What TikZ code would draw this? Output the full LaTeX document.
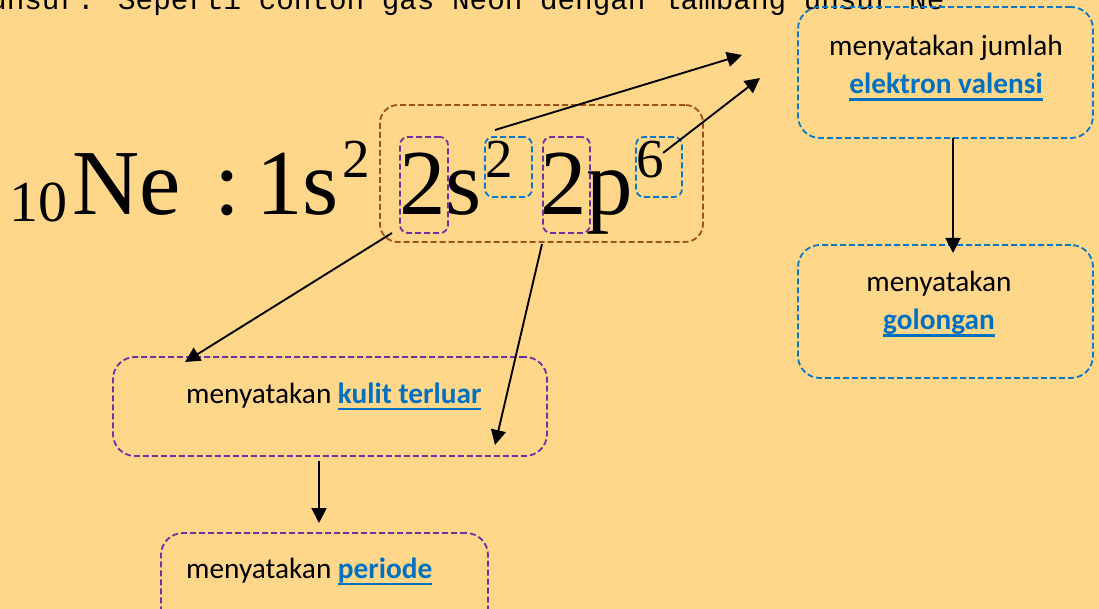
\documentclass[tikz,border=0pt]{standalone}
\usepackage{fontspec}
\usetikzlibrary{arrows.meta}
\setmainfont{Liberation Serif}
\newfontfamily\calib{Carlito}
\newfontfamily\monof{Liberation Mono}
\definecolor{bg}{HTML}{FFD78A}
\definecolor{linkblue}{HTML}{0070C0}
\definecolor{boxblue}{HTML}{0B76C6}
\definecolor{boxpurple}{HTML}{7030A0}
\definecolor{boxbrown}{HTML}{A0501A}
\newsavebox\lnkbox
\newcommand{\lnk}[1]{\sbox\lnkbox{\color{linkblue}\bfseries #1}\rlap{\color{linkblue}\rule[-7pt]{\wd\lnkbox}{2.2pt}}\usebox\lnkbox}
\tikzset{
  big/.style={anchor=base west,inner sep=0pt,font=\fontsize{93}{93}\selectfont},
  supr/.style={anchor=base west,inner sep=0pt,font=\fontsize{55}{55}\selectfont},
  dbox/.style={draw,dash pattern=on 6pt off 3pt,line width=1.8pt,inner sep=0pt,rounded corners=#1},
  dbox/.default=20pt,
  desc/.style={inner sep=0pt,font=\calib\fontsize{29.3}{38}\selectfont,align=center},
  arr/.style={-{Triangle[length=15pt,width=15pt]},line width=1.9pt,black}
}
\begin{document}
\begin{tikzpicture}[x=1pt,y=-1pt]
\useasboundingbox (0,0) rectangle (1099,609);
\fill[bg] (0,0) rectangle (1099,609);
\begin{scope}
\clip (0,0) rectangle (1099,609);
\node[anchor=base west,inner sep=0pt,font=\monof\fontsize{29.3}{30}\selectfont] (toptext) at (-11,10) {unsur. Seperti contoh gas Neon dengan lambang unsur Ne};

% formula
\node[anchor=base west,inner sep=0pt,font=\fontsize{58}{58}\selectfont] (sub10) at (9,222) {10};
\node[big] (ne) at (72,215) {Ne};
\node[big] (colon) at (214,215) {:};
\node[big] (ones) at (256,215) {1s};
\node[supr] (supa) at (342,178) {2};
\node[big] (twos) at (399,215) {2s};
\node[supr] (supb) at (485,178) {2};
\node[big] (twop) at (540,215) {2p};
\node[supr] (supc) at (636,178) {6};

% boxes around formula parts
\node[dbox=18pt,boxbrown,minimum width=323pt,minimum height=137pt] (brown) at (541.5,173.5) {};
\node[dbox=8pt,boxpurple,minimum width=48pt,minimum height=96pt] (pa) at (424,185) {};
\node[dbox=8pt,boxpurple,minimum width=47pt,minimum height=96pt] (pb) at (566.5,185) {};
\node[dbox=8pt,boxblue,minimum width=47pt,minimum height=60pt] (ba) at (508.5,167) {};
\node[dbox=8pt,boxblue,minimum width=46pt,minimum height=60pt] (bb) at (659,167) {};

% description boxes
\node[dbox=22pt,boxblue,minimum width=295pt,minimum height=131pt] (valbox) at (945.5,72.5) {};
\node[desc] (valtext) at (946,68) {menyatakan jumlah\\\lnk{elektron valensi}};
\node[dbox=22pt,boxblue,minimum width=295pt,minimum height=133pt] (golbox) at (945.5,311.5) {};
\node[desc] (goltext) at (939,304) {menyatakan\\\lnk{golongan}};
\node[dbox=22pt,boxpurple,minimum width=434pt,minimum height=99pt] (kulbox) at (330,406.5) {};
\node[desc,anchor=base west] (kultext) at (186,403) {menyatakan \lnk{kulit terluar}};
\node[dbox=22pt,boxpurple,minimum width=327pt,minimum height=120pt] (perbox) at (324.5,593) {};
\node[desc,anchor=base west] (pertext) at (186,578) {menyatakan \lnk{periode}};

% connectors
\coordinate (a1s) at (495,130);
\coordinate (a1e) at (742,55);
\coordinate (a2s) at (663,153);
\coordinate (a2e) at (760,78);
\coordinate (a3s) at (392,233);
\coordinate (a3e) at (185,362);
\coordinate (a4s) at (542,244);
\coordinate (a4e) at (495,445);
\coordinate (a5s) at (953,138);
\coordinate (a5e) at (953,253);
\coordinate (a6s) at (319,461);
\coordinate (a6e) at (319,523);
\draw[arr] (a1s) -- (a1e);
\draw[arr] (a2s) -- (a2e);
\draw[arr] (a3s) -- (a3e);
\draw[arr] (a4s) -- (a4e);
\draw[arr] (a5s) -- (a5e);
\draw[arr] (a6s) -- (a6e);
\end{scope}
\end{tikzpicture}
\end{document}
